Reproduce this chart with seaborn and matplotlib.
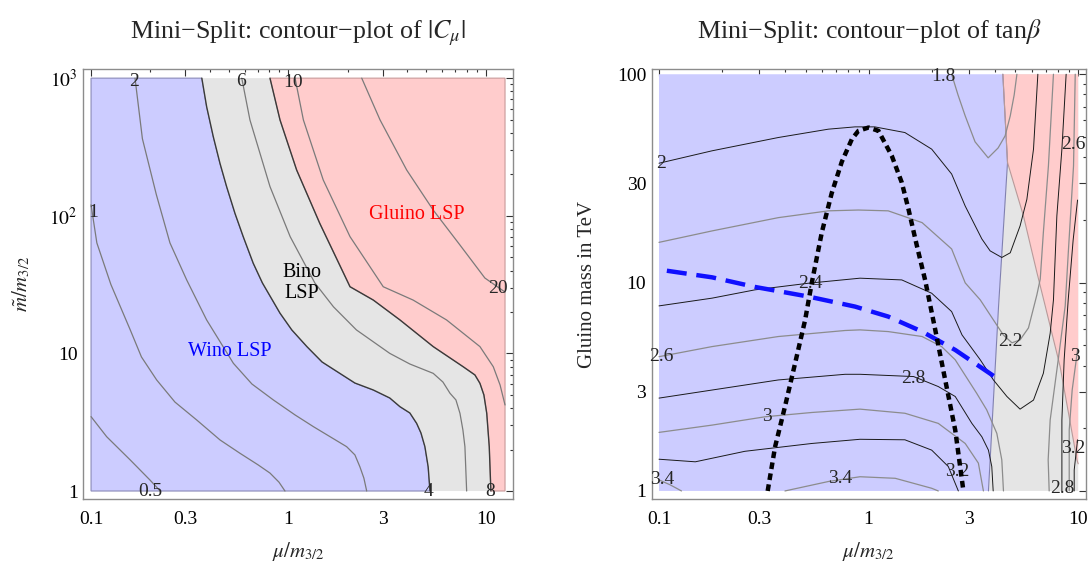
import seaborn as sns
import matplotlib.pyplot as plt

# ---------------- left panel: |C_mu| (x = mu/m32, y = mtilde/m32) ----------------
c05_x = [0.1, 0.12, 0.158, 0.199, 0.224]
c05_y = [3.47, 2.48, 1.68, 1.20, 1.0]
c1_x = [0.1, 0.107, 0.126, 0.158, 0.180, 0.215, 0.266, 0.343, 0.450, 0.568, 0.701, 0.806, 0.895, 0.96]
c1_y = [120, 63.5, 31.7, 14.8, 9.42, 6.41, 4.43, 3.28, 2.35, 1.88, 1.55, 1.35, 1.16, 1.0]
c2_x = [0.167, 0.182, 0.214, 0.251, 0.305, 0.385, 0.526, 0.653, 0.838, 1.08, 1.34, 1.97,
        2.17, 2.30, 2.41, 2.49]
c2_y = [1000, 363, 143, 63.5, 34.2, 17.5, 8.47, 5.99, 4.59, 3.57, 2.93, 2.10,
        1.83, 1.50, 1.24, 1.0]
c4_x = [0.364, 0.385, 0.416, 0.450, 0.486, 0.536, 0.590, 0.663, 0.738, 0.906, 1.04, 1.24,
        1.48, 1.82, 2.17, 2.69, 3.26, 3.67, 4.12, 4.46, 4.69, 4.91, 5.10, 5.21]
c4_y = [1000, 621, 376, 240, 163, 104, 70.5, 45.2, 32.5, 19.6, 14.8, 11.2,
        8.66, 7.16, 6.09, 5.42, 4.74, 4.10, 3.69, 3.10, 2.64, 2.10, 1.50, 1.0]
c6_x = [0.580, 0.638, 0.806, 1.02, 1.36, 1.69, 2.21, 3.26, 4.12, 5.41, 6.06, 6.58, 7.05,
        7.39, 7.65, 7.83, 7.99]
c6_y = [1000, 497, 163, 70.5, 32.5, 21.8, 14.8, 10.0, 8.37, 7.16, 6.19, 5.13, 4.59,
        3.67, 2.77, 2.10, 1.0]
c8_x = [0.806, 0.906, 1.10, 1.44, 2.05, 2.69, 3.67, 5.41, 7.67, 8.80, 9.33, 9.77, 10.1,
        10.4, 10.6]
c8_y = [1000, 497, 215, 88.2, 30.5, 24.4, 17.5, 11.2, 8.00, 6.97, 6.06, 4.99, 3.67,
        2.10, 1.0]
c10_x = [1.08, 1.19, 1.50, 2.05, 3.02, 4.28, 6.32, 9.33, 10.9, 11.8, 12.5]
c10_y = [1000, 497, 182, 70.5, 30.5, 24.4, 17.5, 11.2, 8.0, 5.89, 4.22]
c20_x = [2.35, 2.91, 3.97, 5.41, 7.39, 9.88, 12.5]
c20_y = [1000, 497, 215, 110, 61.3, 35.3, 27.9]
left_xmax = 12.5

left_labels = ["0.5", "1", "2", "4", "6", "8", "10", "20"]
left_label_x = [0.2, 0.103, 0.166, 5.1, 0.575, 10.5, 1.06, 11.5]
left_label_y = [1.0, 105, 940, 1.0, 940, 1.0, 930, 29.7]

# ---------------- right panel: tan(beta) (x = mu/m32, y = gluino mass) ----------------
r18_x = [2.49, 2.67, 2.89, 3.22, 3.72, 4.15, 4.48, 4.74, 4.95, 5.10]
r18_y = [100, 79.6, 63.1, 47.4, 39.7, 44.3, 50.6, 63.1, 79.6, 100]
r20_x = [0.1, 0.179, 0.371, 0.643, 0.862, 1.07, 1.49, 2.00, 2.49, 2.89, 3.47, 3.80,
         4.32, 4.74, 5.28, 5.69, 6.12, 6.42]
r20_y = [37.4, 42.9, 49.7, 54.5, 55.9, 55.9, 52.5, 43.7, 33.2, 23.3, 16.2, 14.2,
         13.2, 13.9, 18.7, 25.1, 43.7, 100]
r22_x = [0.1, 0.179, 0.371, 0.643, 0.894, 1.24, 1.80, 2.49, 2.89, 3.41, 3.94, 4.39,
         4.83, 5.28, 5.79, 6.35, 6.59, 6.82, 7.21, 7.62]
r22_y = [15.6, 17.7, 20.5, 22.1, 22.3, 22.1, 19.4, 14.5, 9.97, 8.26, 6.62, 5.61,
         5.14, 5.31, 6.06, 8.73, 10.4, 17.4, 36.3, 100]
r24_x = [0.1, 0.179, 0.287, 0.516, 0.910, 1.44, 2.00, 2.49, 2.79, 3.41, 3.94, 4.57,
         5.28, 6.12, 6.82, 7.35, 7.62, 7.91, 8.36, 8.76]
r24_y = [7.73, 8.42, 9.23, 9.93, 10.5, 10.3, 8.89, 7.26, 5.61, 4.26, 3.41, 2.84,
         2.47, 2.73, 3.67, 5.71, 8.26, 20.9, 43.7, 100]
r26a_x = [0.1, 0.179, 0.371, 0.773, 0.910, 1.24, 1.80, 2.23, 2.59, 3.28, 3.66, 4.09, 4.32, 4.40]
r26a_y = [4.41, 4.93, 5.51, 5.89, 5.93, 5.82, 5.51, 4.93, 4.26, 2.94, 2.45, 1.89, 1.41, 1.0]
r26b_x = [9.68, 9.50, 8.99, 8.67, 8.03, 7.35, 7.19, 7.27]
r26b_y = [100, 36.3, 14.5, 7.73, 4.26, 2.19, 1.41, 1.0]
r28a_x = [0.1, 0.179, 0.371, 0.773, 0.910, 1.64, 2.15, 2.59, 3.11, 3.47, 3.73, 3.87, 3.93]
r28a_y = [2.79, 3.05, 3.41, 3.63, 3.63, 3.54, 3.17, 2.84, 2.11, 1.82, 1.57, 1.31, 1.0]
r28b_x = [8.36, 8.36, 8.57, 8.96, 9.46, 9.93]
r28b_y = [1.0, 2.19, 4.26, 8.26, 16.0, 24.9]
r30a_x = [0.1, 0.179, 0.321, 0.536, 0.910, 1.49, 2.15, 2.89, 3.34, 3.53]
r30a_y = [1.91, 2.07, 2.27, 2.38, 2.47, 2.36, 2.11, 1.69, 1.36, 1.0]
r30b_x = [9.06, 9.06, 9.36, 9.93]
r30b_y = [1.0, 1.96, 3.05, 4.75]
r32a_x = [0.1, 0.149, 0.257, 0.536, 0.910, 1.49, 2.00, 2.40, 2.68]
r32a_y = [1.42, 1.38, 1.55, 1.69, 1.77, 1.76, 1.57, 1.31, 1.0]
r32b_x = [9.57, 9.57, 9.93]
r32b_y = [1.0, 1.26, 1.76]
r34a_x = [0.1, 0.113, 0.128]
r34a_y = [1.13, 1.07, 1.0]
r34b_x = [0.399, 0.643, 0.910, 1.34, 2.00, 2.15]
r34b_y = [1.0, 1.11, 1.17, 1.15, 1.03, 1.0]

# region boundaries
wino_edge_x = [4.37, 4.60, 4.17, 3.94, 3.73]
wino_edge_y = [100, 37.7, 7.73, 2.73, 1.0]
gluino_edge_x = [4.37, 4.60, 5.48, 6.35, 6.96, 8.20, 9.86, 10.0]
gluino_edge_y = [100, 37.7, 20.9, 11.2, 7.73, 3.95, 1.41, 1.35]

# black dotted arc and blue dashed curve
arc_x = [0.330, 0.358, 0.399, 0.446, 0.498, 0.536, 0.598, 0.667, 0.745, 0.832, 0.894, 1.0,
         1.114, 1.29, 1.44, 1.55, 1.70, 1.86, 2.08, 2.32, 2.59, 2.83]
arc_y = [1.0, 1.63, 2.54, 4.10, 6.62, 10.0, 17.4, 26.9, 38.0, 48.8, 53.5, 55.5,
         53.5, 40.6, 30.2, 22.5, 15.0, 10.3, 5.93, 3.41, 1.96, 1.01]
blue_x = [0.109, 0.179, 0.287, 0.516, 0.862, 1.24, 1.80, 2.59, 4.09]
blue_y = [11.4, 10.6, 9.53, 8.57, 7.67, 6.87, 5.82, 4.75, 3.48]

right_labels = ["1.8", "2", "2.2", "2.4", "2.6", "2.6", "2.8", "2.8", "3", "3",
                "3.2", "3.2", "3.4", "3.4"]
right_label_x = [2.28, 0.102, 4.74, 0.526, 0.103, 9.5, 1.64, 8.36, 0.327, 9.69,
                 2.64, 9.5, 0.103, 0.731]
right_label_y = [97, 37.4, 5.21, 9.93, 4.41, 46.2, 3.48, 1.03, 2.27, 4.41,
                 1.24, 1.60, 1.13, 1.15]

# ---------------- styling ----------------
sns.set_theme(style="white")
plt.rcParams['font.family'] = ['Liberation Serif', 'DejaVu Serif']
plt.rcParams['mathtext.fontset'] = 'stix'

BLUE = '#ccccff'
GREY = '#e5e5e5'
PINK = '#ffcccc'

fig = plt.figure(figsize=(10.88, 5.63), dpi=100)
axL = fig.add_axes([0.0766, 0.1137, 0.3948, 0.7638])
axR = fig.add_axes([0.599, 0.1137, 0.3992, 0.7638])


def line(ax, xs, ys, color, lw=0.8, **kw):
    sns.lineplot(x=xs, y=ys, sort=False, estimator=None, color=color,
                 linewidth=lw, ax=ax, legend=False, **kw)


def frame(ax, xmaj, xlab, ymaj, ylab, xmin, ymin):
    ax.set_xscale('log')
    ax.set_yscale('log')
    ax.set_xticks(xmaj)
    ax.set_xticklabels(xlab)
    ax.set_xticks(xmin, minor=True)
    ax.set_yticks(ymaj)
    ax.set_yticklabels(ylab)
    ax.set_yticks(ymin, minor=True)
    ax.xaxis.set_minor_formatter(plt.NullFormatter())
    ax.yaxis.set_minor_formatter(plt.NullFormatter())
    ax.tick_params(which='both', direction='in', top=True, right=True,
                   color='#333333', width=0.8, labelsize=14, labelcolor='black')
    ax.tick_params(which='major', length=5)
    ax.tick_params(which='minor', length=2.5)
    ax.tick_params(axis='x', pad=9)
    ax.tick_params(axis='y', pad=4)
    for s in ax.spines.values():
        s.set_color('#8c8c8c')
        s.set_linewidth(1.0)


# ---- left panel ----
axL.fill([0.1, 0.1] + c4_x, [1, 1000] + c4_y, color=BLUE, ec='#8a8ab8', lw=0.8, zorder=1)
axL.fill(c4_x + c8_x[::-1], c4_y + c8_y[::-1], color=GREY, ec='none', zorder=1)
axL.fill(c8_x + [left_xmax, left_xmax], c8_y + [1, 1000], color=PINK, ec='#c89a9a',
         lw=0.8, zorder=1)
for xs, ys in [(c05_x, c05_y), (c1_x, c1_y), (c2_x, c2_y), (c6_x, c6_y),
               (c10_x, c10_y), (c20_x, c20_y)]:
    line(axL, xs, ys, '#7a7a7a', 0.9)
line(axL, c4_x, c4_y, '#3a3a3a', 1.0)
line(axL, c8_x, c8_y, '#3a3a3a', 1.0)
for t, x, y in zip(left_labels, left_label_x, left_label_y):
    axL.text(x, y, t, fontsize=14, ha='center', va='center', clip_on=False, zorder=5)
axL.text(4.44, 102, "Gluino LSP", color='red', fontsize=14.5, ha='center', va='center')
axL.text(1.17, 32.5, "Bino\nLSP", color='black', fontsize=14.5, ha='center',
         va='center', linespacing=1.1)
axL.text(0.506, 10.3, "Wino LSP", color='blue', fontsize=14.5, ha='center', va='center')

frame(axL, [0.1, 0.3, 1, 3, 10], ['0.1', '0.3', '1', '3', '10'],
      [1, 10, 100, 1000], ['1', '10', r'$10^2$', r'$10^3$'],
      [0.2, 0.4, 0.5, 0.6, 0.7, 0.8, 0.9, 2, 4, 5, 6, 7, 8, 9],
      [2, 3, 4, 5, 6, 7, 8, 9, 20, 30, 40, 50, 60, 70, 80, 90,
       200, 300, 400, 500, 600, 700, 800, 900])
axL.set_xlim(0.0914, 13.7)
axL.set_ylim(0.875, 1166)
axL.set_xlabel(r"$\mu/m_{3/2}$", fontsize=15, labelpad=8)
axL.set_ylabel(r"$\tilde{m}/m_{3/2}$", fontsize=15, labelpad=12)
axL.set_title(r"Mini−Split: contour−plot of $|C_\mu|$", fontsize=18.7, pad=22)

# ---- right panel ----
axR.fill([0.1, 0.1] + wino_edge_x, [1, 100] + wino_edge_y, color=BLUE, ec='none', zorder=1)
axR.fill(wino_edge_x + [10, 10], wino_edge_y + [1, 100], color=GREY, ec='none', zorder=1)
axR.fill(gluino_edge_x + [10], gluino_edge_y + [100], color=PINK, ec='none', zorder=1)
line(axR, wino_edge_x, wino_edge_y, '#8080b0', 0.8)
line(axR, gluino_edge_x, gluino_edge_y, '#b89a9a', 0.8)

grey_lines = [(r18_x, r18_y), (r22_x, r22_y), (r26a_x, r26a_y), (r26b_x, r26b_y),
              (r30a_x, r30a_y), (r30b_x, r30b_y), (r34a_x, r34a_y), (r34b_x, r34b_y)]
black_lines = [(r20_x, r20_y), (r24_x, r24_y), (r28a_x, r28a_y), (r28b_x, r28b_y),
               (r32a_x, r32a_y), (r32b_x, r32b_y)]
for xs, ys in grey_lines:
    line(axR, xs, ys, '#8c8c8c', 0.9)
for xs, ys in black_lines:
    line(axR, xs, ys, '#1a1a1a', 0.7)

line(axR, blue_x, blue_y, '#1010ff', 3.2, linestyle=(0, (4.5, 2.2)), zorder=4)
line(axR, arc_x, arc_y, 'black', 3.2, linestyle=(0, (1.5, 1.0)), zorder=4)

for t, x, y in zip(right_labels, right_label_x, right_label_y):
    axR.text(x, y, t, fontsize=14, ha='center', va='center', clip_on=False, zorder=3)

frame(axR, [0.1, 0.3, 1, 3, 10], ['0.1', '0.3', '1', '3', '10'],
      [1, 3, 10, 30, 100], ['1', '3', '10', '30', '100'],
      [0.2, 0.4, 0.5, 0.6, 0.7, 0.8, 0.9, 2, 4, 5, 6, 7, 8, 9],
      [2, 4, 5, 6, 7, 8, 9, 20, 40, 50, 60, 70, 80, 90])
axR.set_xlim(0.0923, 10.9)
axR.set_ylim(0.915, 106)
axR.set_xlabel(r"$\mu/m_{3/2}$", fontsize=15, labelpad=8)
axR.set_ylabel("Gluino mass in TeV", fontsize=15, labelpad=14)
axR.set_title(r"Mini−Split: contour−plot of tan$\beta$", fontsize=18.7, pad=22)

fig.savefig("out.png", dpi=100)
